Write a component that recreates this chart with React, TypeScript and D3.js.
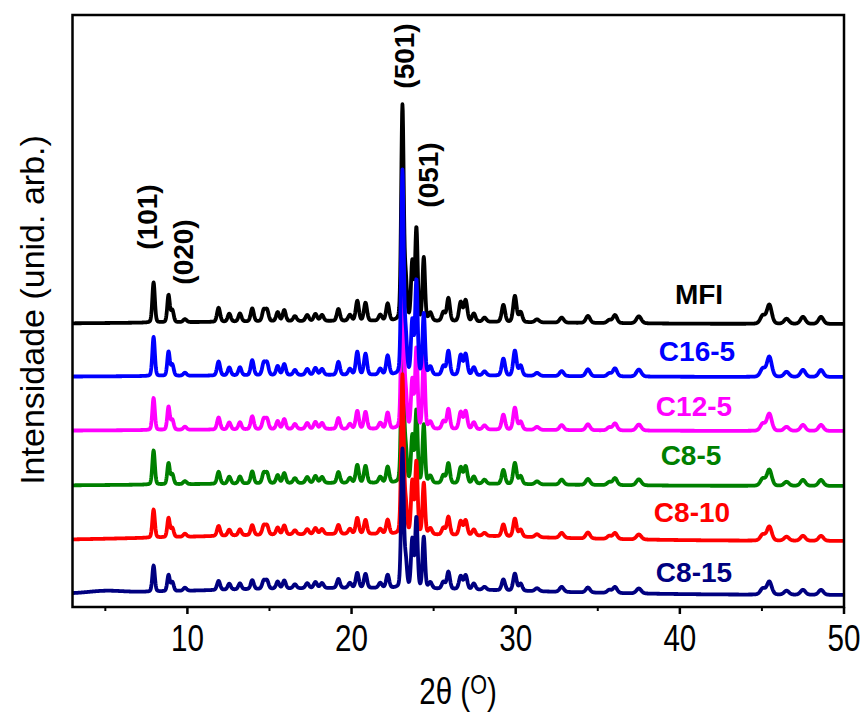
import React from "react";
import * as d3 from "d3";

// ---- data ----
const SERIES_NAMES = ["MFI", "C16-5", "C12-5", "C8-5", "C8-10", "C8-15"];
const SERIES_COLORS = ["#000000", "#0000ff", "#ff00ff", "#008000", "#ff0000", "#000080"];
// vertical stacking offset of each pattern (arb. units)
const SERIES_OFFSETS = [283, 230, 176, 121, 66, 12];
// broad amorphous background hump amplitude and low-angle hump amplitude
const BROAD_BG = [3, 2, 2, 3, 7, 7];
const LOW_ANGLE_BG = [0, 0, 0, 0, 0, 2];

// Bragg reflections (2θ, degrees) and their widths (FWHM, degrees)
const PEAK_POS = [7.94, 8.85, 9.08, 9.85, 11.9, 12.55, 13.2, 13.95, 14.65, 14.85, 15.5, 15.9, 16.55, 17.3, 17.8, 18.2, 19.2, 19.9, 20.35, 20.85, 21.75, 22.2, 23.1, 23.3, 23.7, 23.95, 24.4, 24.8, 25.6, 25.9, 26.65, 26.95, 27.45, 28.1, 29.25, 29.95, 30.3, 31.3, 32.8, 34.4, 35.7, 36.05, 37.5, 45.05, 45.45, 46.5, 47.5, 48.6];
const PEAK_FWHM = [0.18, 0.18, 0.2, 0.24, 0.22, 0.22, 0.22, 0.22, 0.22, 0.22, 0.22, 0.22, 0.24, 0.24, 0.24, 0.24, 0.22, 0.24, 0.22, 0.22, 0.24, 0.22, 0.18, 0.18, 0.18, 0.18, 0.18, 0.24, 0.24, 0.22, 0.24, 0.24, 0.24, 0.26, 0.24, 0.24, 0.24, 0.3, 0.3, 0.3, 0.3, 0.3, 0.35, 0.35, 0.35, 0.35, 0.35, 0.35];

const MFI_I = [40, 27, 12, 3, 14, 8, 8, 13, 11, 11, 9, 11, 5, 6, 7, 6, 12, 6, 20, 18, 6, 17, 214, 38, 58, 92, 63, 8, 9, 23, 19, 21, 8, 4, 17, 26, 10, 3, 5, 7, 3, 8, 7, 8, 19, 5, 7, 7];
const C16_5_I = [39, 24, 11, 3, 14, 8, 8, 15, 12, 12, 9, 11, 5, 6, 7, 6, 13, 6, 23, 21, 6, 19, 203, 36, 53, 94, 61, 8, 9, 24, 20, 21, 8, 4, 17, 25, 10, 3, 5, 7, 3, 8, 7, 8, 20, 5, 7, 7];
const C12_5_I = [32, 23, 10, 3, 12, 7, 7, 13, 10, 10, 8, 10, 5, 6, 7, 6, 11, 5, 18, 17, 6, 16, 178, 33, 48, 80, 72, 7, 8, 20, 17, 18, 7, 4, 15, 22, 8, 3, 5, 6, 3, 7, 6, 7, 17, 4, 6, 6];
const C8_5_I = [34, 21, 10, 3, 12, 7, 7, 12, 10, 10, 8, 10, 5, 6, 7, 6, 11, 5, 18, 17, 6, 16, 170, 31, 46, 72, 58, 7, 8, 20, 16, 17, 7, 4, 14, 21, 8, 3, 5, 6, 3, 7, 6, 7, 16, 4, 6, 6];
const C8_10_I = [28, 19, 9, 3, 10, 6, 6, 10, 9, 9, 7, 9, 4, 5, 6, 5, 9, 5, 16, 14, 5, 14, 158, 28, 52, 72, 51, 6, 7, 18, 14, 15, 6, 3, 12, 18, 7, 3, 5, 6, 3, 6, 5, 6, 14, 4, 5, 5];
const C8_15_I = [26, 16, 9, 3, 9, 6, 6, 9, 8, 8, 7, 8, 4, 5, 6, 5, 9, 5, 15, 14, 5, 13, 138, 26, 48, 70, 51, 6, 7, 17, 13, 14, 6, 3, 11, 17, 7, 3, 5, 5, 3, 6, 5, 6, 13, 4, 5, 5];
const SERIES_INTENSITIES = [MFI_I, C16_5_I, C12_5_I, C8_5_I, C8_10_I, C8_15_I];

const X_TICKS = [10, 20, 30, 40, 50];
const X_MINOR_TICKS = [5, 15, 25, 35, 45];
const PEAK_LABELS = ["(101)", "(020)", "(501)", "(051)"];

// draw order: later is on top
const DRAW_ORDER = [0, 3, 2, 1, 4, 5];

// ---- layout ----
const W = 867;
const H = 713;
const PLOT = { left: 72.5, right: 844, top: 15, bottom: 607 };
const SERIES_LABEL_POS = [
  [699, 294],
  [697, 351],
  [694, 406],
  [691, 455],
  [692, 512],
  [694, 572],
];
const PEAK_LABEL_POS = [
  [147, 217],
  [183, 252],
  [404, 56],
  [428, 175],
];

function profile(x: number, c: number, w: number) {
  const d = (x - c) / w;
  const g = Math.exp(-4 * Math.LN2 * d * d);
  const l = 1 / (1 + 4 * d * d);
  return 0.8 * g + 0.2 * l;
}

function buildPattern(si: number) {
  const xs = d3.range(3, 50.0001, 0.02);
  const I = SERIES_INTENSITIES[si];
  return xs.map((x) => {
    let y = SERIES_OFFSETS[si];
    y += BROAD_BG[si] * Math.exp(-((x - 20) * (x - 20)) / 200);
    y += LOW_ANGLE_BG[si] * Math.exp(-((x - 5) * (x - 5)) / 2);
    for (let k = 0; k < PEAK_POS.length; k++) {
      if (Math.abs(x - PEAK_POS[k]) < 3) y += I[k] * profile(x, PEAK_POS[k], PEAK_FWHM[k]);
    }
    return [x, y] as [number, number];
  });
}

export default function App() {
  const xScale = d3.scaleLinear().domain([3, 50]).range([PLOT.left, PLOT.right]);
  const yScale = d3.scaleLinear().domain([0, 592]).range([PLOT.bottom, PLOT.top]);
  const line = d3
    .line<[number, number]>()
    .x((d) => xScale(d[0]))
    .y((d) => yScale(d[1]));

  const sansFont = "'Liberation Sans', Arial, sans-serif";

  return (
    <svg
      width={W}
      height={H}
      viewBox={`0 0 ${W} ${H}`}
      style={{ position: "absolute", left: 0, top: 0, background: "#fff" }}
    >
      <rect x={0} y={0} width={W} height={H} fill="#fff" />
      {DRAW_ORDER.map((si) => (
        <path
          key={SERIES_NAMES[si]}
          d={line(buildPattern(si)) || ""}
          fill="none"
          stroke={SERIES_COLORS[si]}
          strokeWidth={3.8}
          strokeLinejoin="round"
        />
      ))}
      {/* frame */}
      <rect
        x={PLOT.left}
        y={PLOT.top}
        width={PLOT.right - PLOT.left}
        height={PLOT.bottom - PLOT.top}
        fill="none"
        stroke="#000"
        strokeWidth={2.5}
      />
      {/* x ticks */}
      {X_TICKS.map((t) => (
        <g key={"t" + t}>
          <line x1={xScale(t)} x2={xScale(t)} y1={PLOT.bottom} y2={PLOT.bottom + 7} stroke="#000" strokeWidth={2.5} />
          <text
            transform={`translate(${xScale(t)},${PLOT.bottom + 44}) scale(0.8,1)`}
            textAnchor="middle"
            fontFamily={sansFont}
            fontSize={37}
            fill="#000"
          >
            {t}
          </text>
        </g>
      ))}
      {X_MINOR_TICKS.map((t) => (
        <line key={"m" + t} x1={xScale(t)} x2={xScale(t)} y1={PLOT.bottom} y2={PLOT.bottom + 4} stroke="#000" strokeWidth={2} />
      ))}
      {/* axis titles */}
      <text
        transform="translate(458,704) scale(0.8,1)"
        textAnchor="middle"
        fontFamily={sansFont}
        fontSize={37}
        fill="#000"
      >
        2θ (<tspan fontSize={27} dy={-10}>O</tspan>
        <tspan dy={10}>)</tspan>
      </text>
      <text
        transform="translate(32,310) rotate(-90)"
        textAnchor="middle"
        dominantBaseline="central"
        fontFamily={sansFont}
        fontSize={34}
        fill="#000"
      >
        Intensidade (unid. arb.)
      </text>
      {/* series labels */}
      {SERIES_NAMES.map((n, i) => (
        <text
          key={"l" + n}
          x={SERIES_LABEL_POS[i][0]}
          y={SERIES_LABEL_POS[i][1]}
          textAnchor="middle"
          dominantBaseline="central"
          fontFamily={sansFont}
          fontWeight="bold"
          fontSize={28}
          fill={SERIES_COLORS[i]}
        >
          {n}
        </text>
      ))}
      {/* peak labels */}
      {PEAK_LABELS.map((p, i) => (
        <text
          key={p}
          transform={`translate(${PEAK_LABEL_POS[i][0]},${PEAK_LABEL_POS[i][1]}) rotate(-90)`}
          textAnchor="middle"
          dominantBaseline="central"
          fontFamily={sansFont}
          fontWeight="bold"
          fontSize={28}
          fill="#000"
        >
          {p}
        </text>
      ))}
    </svg>
  );
}
